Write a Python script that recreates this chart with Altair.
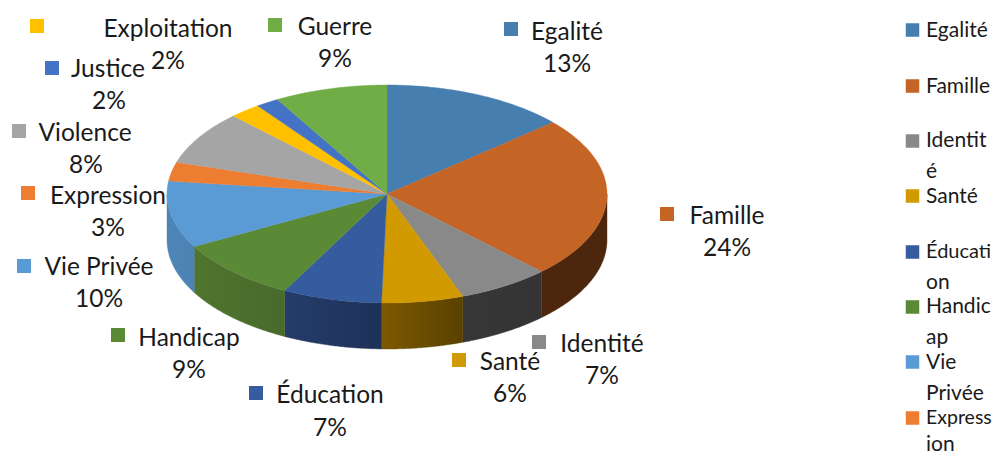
import math
import altair as alt
import pandas as pd

# --- data ---
categories = ["Egalité", "Famille", "Identité", "Santé", "Éducation", "Handicap",
              "Vie Privée", "Expression", "Violence", "Exploitation", "Justice", "Guerre"]
shares = [13.6, 24.0, 6.8, 6.0, 7.3, 9.3, 9.9, 2.8, 8.0, 2.3, 1.7, 8.3]
pct_labels = ["13%", "24%", "7%", "6%", "7%", "9%", "10%", "3%", "8%", "2%", "2%", "9%"]

# --- styles ---
top_colors = ["#467EB0", "#C46526", "#898989", "#D19A00", "#355C9F", "#5B8A37",
              "#5B9BD5", "#ED7D31", "#A5A5A5", "#FFC000", "#4472C4", "#70AD47"]
wall_shades = {
    "Famille": ("#4D260E", "#4D260E"),
    "Identité": ("#373737", "#343434"),
    "Santé": ("#7D5A00", "#5A4100"),
    "Éducation": ("#253C6B", "#1E3258"),
    "Handicap": ("#50752F", "#486A2B"),
    "Vie Privée": ("#4E85B7", "#4C82B4"),
}

# --- layout (page pixels; the page margin is removed below) ---
W, H = 984, 446
OFF = 8
CX, CY, RX, RY, DEPTH = 387, 194, 220, 109, 46
SW = 14
label_name_x = [567, 727, 602, 510, 330, 189, 99, 108, 85, 168, 108, 335]
label_name_y = [33, 217, 345, 363, 396, 339, 268, 197, 134, 30, 70, 28]
label_pct_x = [567, 727, 602, 510, 330, 189, 99, 108, 86, 168, 109, 335]
label_pct_y = [65, 249, 377, 395, 429, 371, 300, 229, 166, 62, 102, 60]
swatch_x = [511, 667, 539, 459, 256, 118, 24, 28, 19, 37, 52, 275]
swatch_y = [29, 214, 342, 360, 393, 335, 266, 193, 131, 26, 68, 25]

legend_cats = categories[:8]
legend_sw_y = [30, 86, 141, 196, 252, 307, 362, 418]
legend_lines = [("Egalité", 31, 21), ("Famille", 87, 21), ("Identit", 141, 21), ("é", 172, 21),
                ("Santé", 197, 21), ("Éducati", 252, 20), ("on", 283, 21), ("Handic", 307, 21),
                ("ap", 338, 21), ("Vie", 363, 21), ("Privée", 394, 21), ("Express", 418, 19.5),
                ("ion", 445, 21)]


def rim(a0, a1, dy=0.0, n=60):
    pts = []
    for i in range(n + 1):
        a = math.radians(a0 + (a1 - a0) * i / n)
        pts.append([CX - OFF + RX * math.sin(a), CY - OFF - RY * math.cos(a) + dy])
    return pts


def feature(ring, **props):
    ring = ring + [ring[0]]
    return {"type": "Feature", "properties": props,
            "geometry": {"type": "Polygon", "coordinates": [ring]}}


bounds = [0.0]
for s in shares:
    bounds.append(bounds[-1] + s)
total = bounds[-1]
angles = [b / total * 360 for b in bounds]

proj = dict(type="identity", scale=1, translate=[0, 0])
layers = []

# side walls: only the front half of the disc is visible
for i, cat in enumerate(categories):
    a0, a1 = max(angles[i], 90), min(angles[i + 1], 270)
    if a1 <= a0:
        continue
    ring = rim(a0, a1) + rim(a0, a1, DEPTH)[::-1]
    left, right = wall_shades[cat]
    grad = alt.Gradient(gradient="linear", x1=0, x2=1, y1=0, y2=0,
                        stops=[alt.GradientStop(offset=0, color=left),
                               alt.GradientStop(offset=1, color=right)])
    layers.append(
        alt.Chart(alt.Data(values=[feature(ring, name=cat)]))
        .mark_geoshape(fill=grad, stroke=right, strokeWidth=0.4)
        .project(**proj)
    )

# top face
top = [feature([[CX - OFF, CY - OFF]] + rim(angles[i], angles[i + 1]), name=c, col=top_colors[i])
       for i, c in enumerate(categories)]
layers.append(
    alt.Chart(alt.Data(values=top))
    .mark_geoshape(strokeWidth=0.4)
    .encode(fill=alt.Fill("properties.col:N", scale=None),
            stroke=alt.Stroke("properties.col:N", scale=None))
    .project(**proj)
)

xs = alt.Scale(domain=[0, W], range=[0, W])
ys = alt.Scale(domain=[0, H], range=[0, H])
X = lambda f: alt.X(f, scale=xs, axis=None)
Y = lambda f: alt.Y(f, scale=ys, axis=None)

labels = pd.DataFrame({
    "name": categories, "pct": pct_labels, "col": top_colors,
    "nx": [v - OFF for v in label_name_x], "ny": [v - OFF for v in label_name_y],
    "px": [v - OFF for v in label_pct_x], "py": [v - OFF for v in label_pct_y],
    "sx": [v - OFF for v in swatch_x], "sy": [v - OFF for v in swatch_y],
})
text_style = dict(font="Lato", color="#1a1a1a", baseline="middle", clip=False)

layers.append(alt.Chart(labels).mark_text(fontSize=24.5, align="center", **text_style)
              .encode(x=X("nx:Q"), y=Y("ny:Q"), text="name:N"))
layers.append(alt.Chart(labels).mark_text(fontSize=24.5, align="center", **text_style)
              .encode(x=X("px:Q"), y=Y("py:Q"), text="pct:N"))
layers.append(alt.Chart(labels).mark_square(size=SW * SW, opacity=1)
              .encode(x=X("sx:Q"), y=Y("sy:Q"), color=alt.Color("col:N", scale=None)))

legend_sw = pd.DataFrame({"name": legend_cats, "col": top_colors[:8],
                          "x": [912.5 - OFF] * 8, "y": [v - OFF for v in legend_sw_y]})
legend_tx = pd.DataFrame({"t": [t for t, _, _ in legend_lines],
                          "x": [926 - OFF] * len(legend_lines),
                          "y": [y - OFF for _, y, _ in legend_lines],
                          "fs": [s for _, _, s in legend_lines]})
layers.append(alt.Chart(legend_sw).mark_square(size=13.5 * 13.5, opacity=1)
              .encode(x=X("x:Q"), y=Y("y:Q"), color=alt.Color("col:N", scale=None)))
layers.append(alt.Chart(legend_tx).mark_text(align="left", **text_style)
              .encode(x=X("x:Q"), y=Y("y:Q"), text="t:N",
                      size=alt.Size("fs:Q", scale=None, legend=None)))

chart = (
    alt.layer(*layers)
    .properties(width=W, height=H, padding=0, background="white")
    .configure_view(stroke=None)
)
chart.save("out.html", embed_options={"renderer": "svg", "actions": False})
